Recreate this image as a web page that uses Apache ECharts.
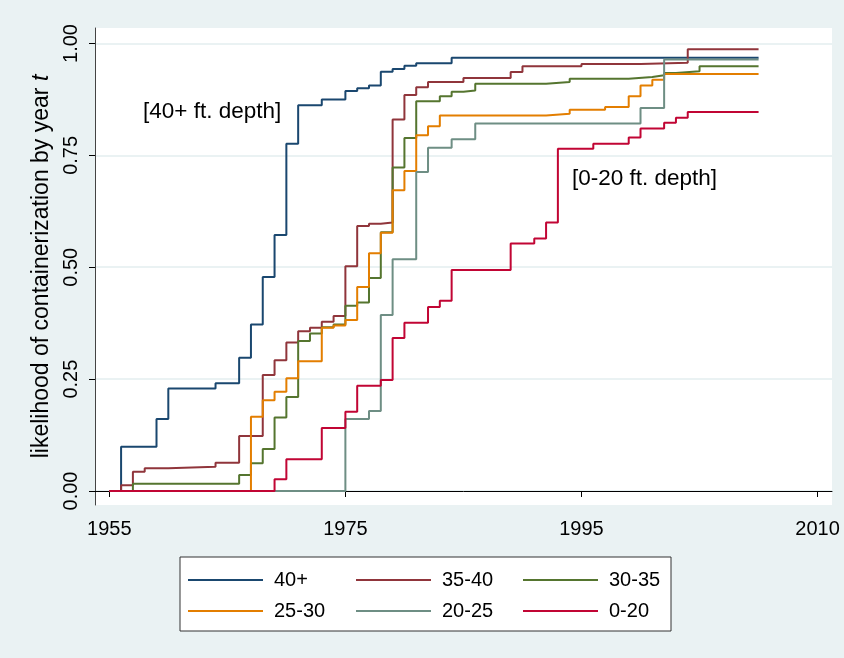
<!DOCTYPE html>
<html>
<head>
<meta charset="utf-8">
<script src="https://cdn.jsdelivr.net/npm/echarts@6/dist/echarts.min.js"></script>
<style>
  html, body { margin: 0; padding: 0; background: #eaf2f3; }
  #chart { width: 844px; height: 658px; }
</style>
</head>
<body>
<div id="chart"></div>
<script>
// step points: year where the curve jumps, and the new level
const names = ["40+", "35-40", "30-35", "25-30", "20-25", "0-20"];
const colors = ["#1a476f", "#90353b", "#55752f", "#e37e00", "#6e8e84", "#c10534"];

const years40 = [1955, 1956, 1959, 1960, 1964, 1966, 1967, 1968, 1969, 1970, 1971, 1973, 1975, 1976, 1977, 1978, 1979, 1980, 1981, 1984, 2010];
const vals40 = [0, 0.099, 0.161, 0.229, 0.241, 0.298, 0.372, 0.478, 0.572, 0.776, 0.862, 0.875, 0.894, 0.900, 0.906, 0.937, 0.943, 0.950, 0.956, 0.968, 0.968];

const years3540 = [1955, 1956, 1957, 1958, 1960, 1964, 1966, 1968, 1969, 1970, 1971, 1972, 1973, 1974, 1975, 1976, 1977, 1978, 1979, 1980, 1981, 1982, 1985, 1989, 1990, 1995, 2000, 2004, 2010];
const vals3540 = [0, 0.013, 0.043, 0.051, 0.054, 0.063, 0.123, 0.259, 0.292, 0.332, 0.357, 0.365, 0.378, 0.391, 0.502, 0.592, 0.597, 0.600, 0.830, 0.885, 0.902, 0.914, 0.923, 0.936, 0.949, 0.954, 0.957, 0.987, 0.987];

const years3035 = [1955, 1957, 1966, 1967, 1968, 1969, 1970, 1971, 1972, 1973, 1974, 1975, 1976, 1977, 1978, 1979, 1980, 1981, 1983, 1984, 1985, 1986, 1992, 1994, 1999, 2001, 2002, 2003, 2005, 2010];
const vals3035 = [0, 0.016, 0.036, 0.062, 0.094, 0.164, 0.210, 0.335, 0.352, 0.366, 0.372, 0.414, 0.421, 0.476, 0.578, 0.723, 0.789, 0.871, 0.882, 0.892, 0.895, 0.910, 0.914, 0.921, 0.925, 0.929, 0.934, 0.938, 0.949, 0.949];

const years2530 = [1955, 1967, 1968, 1969, 1970, 1971, 1973, 1974, 1975, 1976, 1977, 1978, 1979, 1980, 1981, 1982, 1983, 1992, 1994, 1997, 1999, 2000, 2001, 2002, 2010];
const vals2530 = [0, 0.166, 0.203, 0.222, 0.252, 0.290, 0.365, 0.370, 0.382, 0.456, 0.531, 0.577, 0.672, 0.715, 0.795, 0.815, 0.839, 0.843, 0.852, 0.858, 0.882, 0.906, 0.919, 0.932, 0.932];

const years2025 = [1955, 1975, 1977, 1978, 1979, 1981, 1982, 1984, 1986, 2000, 2002, 2010];
const vals2025 = [0, 0.161, 0.179, 0.393, 0.518, 0.713, 0.767, 0.786, 0.821, 0.856, 0.964, 0.964];

const years020 = [1955, 1969, 1970, 1973, 1975, 1976, 1978, 1979, 1980, 1982, 1983, 1984, 1989, 1991, 1992, 1993, 1996, 1999, 2000, 2002, 2003, 2004, 2010];
const vals020 = [0, 0.026, 0.071, 0.141, 0.177, 0.235, 0.248, 0.342, 0.376, 0.411, 0.425, 0.494, 0.553, 0.564, 0.600, 0.765, 0.776, 0.790, 0.810, 0.823, 0.834, 0.847, 0.847];

const xTickValues = [1955, 1975, 1995, 2015];
const xTickLabels = ["1955", "1975", "1995", "2010"];
const yTickValues = [0, 0.25, 0.5, 0.75, 1];

const allYears = [years40, years3540, years3035, years2530, years2025, years020];
const allVals = [vals40, vals3540, vals3035, vals2530, vals2025, vals020];

const font = "'Liberation Sans', Arial, Helvetica, sans-serif";

const series = names.map((n, i) => ({
  name: n,
  type: "line",
  step: "end",
  showSymbol: false,
  color: colors[i],
  lineStyle: { width: 2, color: colors[i] },
  data: allYears[i].map((y, j) => [y, allVals[i][j]])
}));

// 3 x 2 legend, one legend per item so the columns line up
const legendCols = [188, 356, 523];
const legendRows = [570, 601];
const legends = names.map((n, i) => ({
  data: [n],
  left: legendCols[i % 3],
  top: legendRows[Math.floor(i / 3)],
  padding: 0,
  icon: "rect",
  itemWidth: 75,
  itemHeight: 2,
  itemGap: 0,
  selectedMode: false,
  textStyle: {
    fontFamily: font,
    fontSize: 20,
    color: "#000",
    lineHeight: 20,
    padding: [0, 0, 0, 6]
  }
}));

const myChart = echarts.init(document.getElementById("chart"));
const option = {
  backgroundColor: "#eaf2f3",
  animation: false,
  grid: {
    left: 95,
    right: 12,
    top: 28,
    bottom: 153,
    show: true,
    backgroundColor: "#fff",
    borderWidth: 0
  },
  xAxis: {
    type: "value",
    min: 1953.79,
    max: 2016.22,
    axisLine: { lineStyle: { color: "#000", width: 1 } },
    axisTick: { customValues: xTickValues, length: 6, lineStyle: { color: "#000" } },
    axisLabel: {
      customValues: xTickValues,
      margin: 14,
      fontFamily: font,
      fontSize: 20,
      color: "#000",
      formatter: v => xTickLabels[xTickValues.indexOf(v)]
    },
    splitLine: { show: false }
  },
  yAxis: {
    type: "value",
    min: -0.0313,
    max: 1.0346,
    name: "likelihood of containerization by year {i|t}",
    nameLocation: "middle",
    nameGap: 39,
    nameRotate: 90,
    nameTextStyle: {
      fontFamily: font,
      fontSize: 23,
      color: "#000",
      rich: { i: { fontFamily: font, fontSize: 23, fontStyle: "italic", color: "#000" } }
    },
    axisLine: { show: true, lineStyle: { color: "#444", width: 1 } },
    axisTick: { customValues: yTickValues, length: 6, lineStyle: { color: "#000" } },
    axisLabel: {
      customValues: yTickValues,
      rotate: 90,
      margin: 14,
      fontFamily: font,
      fontSize: 20,
      color: "#000",
      formatter: v => v.toFixed(2)
    },
    splitLine: { show: true, lineStyle: { color: "#eaf2f3", width: 2 } }
  },
  legend: legends,
  graphic: [
    {
      type: "rect",
      z: 1,
      shape: { x: 180, y: 557, width: 491, height: 74 },
      style: { fill: "#fff", stroke: "#333", lineWidth: 1 }
    },
    {
      type: "text",
      left: 143,
      top: 100,
      style: { text: "[40+ ft. depth]", font: "22.5px " + font, fill: "#000" }
    },
    {
      type: "text",
      left: 572,
      top: 167,
      style: { text: "[0-20 ft. depth]", font: "22.5px " + font, fill: "#000" }
    }
  ],
  series: series
};
myChart.setOption(option);
</script>
</body>
</html>
